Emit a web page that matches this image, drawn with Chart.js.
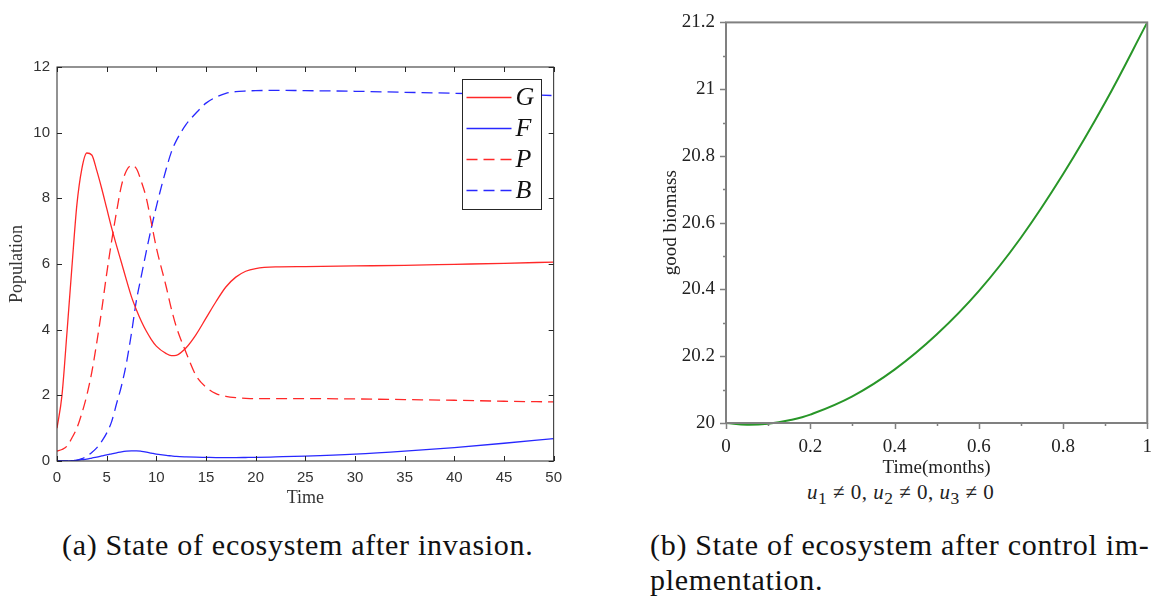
<!DOCTYPE html>
<html>
<head>
<meta charset="utf-8">
<script src="https://cdn.jsdelivr.net/npm/chart.js@4.4.1/dist/chart.umd.min.js"></script>
<style>
  body { margin: 0; background: #fff; width: 1165px; height: 597px; position: relative; overflow: hidden; font-family: "Liberation Serif", serif; }
  .box { position: absolute; }
  .cap { position: absolute; font-size: 30px; letter-spacing: 0.7px; color: #111; line-height: 35px; white-space: nowrap; }
  .ulab { position: absolute; font-size: 21px; letter-spacing: 0.5px; color: #222; white-space: nowrap; }
</style>
</head>
<body>
<div class="box" style="left:0;top:50px;width:570px;height:460px"><canvas id="chartA"></canvas></div>
<div class="box" style="left:615px;top:0;width:550px;height:480px"><canvas id="chartB"></canvas></div>
<div class="ulab" style="left:807px;top:480px"><i>u</i><sub>1</sub> &ne; 0, <i>u</i><sub>2</sub> &ne; 0, <i>u</i><sub>3</sub> &ne; 0</div>
<div class="cap" style="left:62px;top:527px">(a) State of ecosystem after invasion.</div>
<div class="cap" style="left:650px;top:527px">(b) State of ecosystem after control im-<br>plementation.</div>
<script>
// (a) populations after invasion
const time = [0, 0.5, 1, 1.5, 2, 2.5, 3, 3.5, 4, 4.5, 5, 5.5, 6, 6.5, 7, 7.5, 8, 8.5, 9, 9.5, 10,
  11, 11.5, 12, 13, 14, 15, 16, 17, 18, 19, 20, 22, 25, 30, 35, 40, 45, 50];
const G = [1.0, 2.0, 3.9, 5.9, 7.8, 8.9, 9.38, 9.32, 8.85, 8.3, 7.7, 7.1, 6.55, 6.03, 5.5, 5.0, 4.6, 4.25, 3.95, 3.7, 3.5,
  3.27, 3.21, 3.22, 3.45, 3.85, 4.35, 4.85, 5.3, 5.6, 5.78, 5.86, 5.91, 5.92, 5.94, 5.96, 5.99, 6.02, 6.06];
const F = [0, 0, 0.005, 0.01, 0.02, 0.04, 0.06, 0.09, 0.12, 0.155, 0.19, 0.22, 0.25, 0.28, 0.3, 0.31, 0.31, 0.295, 0.27, 0.24, 0.21,
  0.17, 0.155, 0.14, 0.125, 0.115, 0.11, 0.105, 0.105, 0.105, 0.107, 0.11, 0.125, 0.15, 0.21, 0.3, 0.41, 0.54, 0.68];
const P = [0.3, 0.35, 0.45, 0.7, 1.0, 1.45, 2.0, 2.7, 3.6, 4.6, 5.7, 6.7, 7.6, 8.4, 8.85, 9.0, 8.9, 8.5, 8.0, 7.25, 6.5,
  5.3, 4.65, 4.1, 3.3, 2.6, 2.25, 2.05, 1.97, 1.93, 1.91, 1.9, 1.9, 1.9, 1.89, 1.87, 1.85, 1.82, 1.8];
const B = [0, 0, 0, 0.01, 0.03, 0.07, 0.15, 0.26, 0.4, 0.6, 0.85, 1.2, 1.75, 2.3, 3.0, 3.9, 4.9, 5.65, 6.4, 7.1, 7.75,
  8.9, 9.4, 9.75, 10.25, 10.6, 10.9, 11.08, 11.2, 11.25, 11.27, 11.28, 11.29, 11.28, 11.26, 11.23, 11.2, 11.17, 11.13];

// (b) good biomass under control
const months = [0, 0.05, 0.1, 0.15, 0.2, 0.3, 0.4, 0.5, 0.6, 0.7, 0.8, 0.9, 1.0];
const biomass = [20.0, 19.995, 19.998, 20.008, 20.025, 20.08, 20.16, 20.265, 20.395, 20.555, 20.745, 20.96, 21.2];

const pts = (xs, ys) => xs.map((x, i) => ({ x: x, y: ys[i] }));

// box frame + tick marks drawn from the scale ticks
const frameTicks = {
  id: 'frameTicks',
  afterDatasetsDraw(chart, args, o) {
    const { ctx, chartArea: a } = chart;
    const x = chart.scales.x, y = chart.scales.y;
    ctx.save();
    ctx.strokeStyle = o.color;
    ctx.lineWidth = o.width;
    ctx.strokeRect(a.left, a.top, a.right - a.left, a.bottom - a.top);
    ctx.lineWidth = o.tickWidth;
    ctx.beginPath();
    x.ticks.forEach(t => {
      const px = Math.round(x.getPixelForValue(t.value)) + 0.5;
      const len = t.label === '' ? o.minor : o.major;
      if (o.inward) {
        ctx.moveTo(px, a.bottom); ctx.lineTo(px, a.bottom - len);
        ctx.moveTo(px, a.top); ctx.lineTo(px, a.top + len);
      } else {
        ctx.moveTo(px, a.bottom); ctx.lineTo(px, a.bottom + len);
      }
    });
    y.ticks.forEach(t => {
      const py = Math.round(y.getPixelForValue(t.value)) + 0.5;
      const len = t.label === '' ? o.minor : o.major;
      if (o.inward) {
        ctx.moveTo(a.left, py); ctx.lineTo(a.left + len, py);
        ctx.moveTo(a.right, py); ctx.lineTo(a.right - len, py);
      } else {
        ctx.moveTo(a.left, py); ctx.lineTo(a.left - len, py);
      }
    });
    ctx.stroke();
    ctx.restore();
  }
};

// legend box inside the plot, top right
const boxLegend = {
  id: 'boxLegend',
  afterDraw(chart, args, o) {
    if (!o.show) return;
    const { ctx, chartArea: a } = chart;
    const left = Math.round(a.right - o.right - o.width) + 0.5;
    const top = Math.round(a.top + o.top) + 0.5;
    ctx.save();
    ctx.fillStyle = '#fff';
    ctx.fillRect(left, top, o.width, o.height);
    ctx.strokeStyle = '#262626';
    ctx.lineWidth = 1;
    ctx.strokeRect(left, top, o.width, o.height);
    chart.data.datasets.forEach((ds, i) => {
      const cy = top + o.first + i * o.gap;
      ctx.strokeStyle = ds.borderColor;
      ctx.lineWidth = ds.borderWidth;
      ctx.setLineDash(ds.borderDash || []);
      ctx.beginPath();
      ctx.moveTo(left + 4, cy);
      ctx.lineTo(left + 49, cy);
      ctx.stroke();
      ctx.setLineDash([]);
      ctx.fillStyle = '#111';
      ctx.font = o.font;
      ctx.textBaseline = 'middle';
      ctx.fillText(ds.label, left + 53, cy + 1);
    });
    ctx.restore();
  }
};

const red = 'rgb(255,40,40)';
const blue = 'rgb(40,40,255)';

new Chart(document.getElementById('chartA'), {
  type: 'line',
  data: {
    datasets: [
      { label: 'G', data: pts(time, G), borderColor: red, borderWidth: 1.3 },
      { label: 'F', data: pts(time, F), borderColor: blue, borderWidth: 1.3 },
      { label: 'P', data: pts(time, P), borderColor: red, borderWidth: 1.3, borderDash: [11, 6] },
      { label: 'B', data: pts(time, B), borderColor: blue, borderWidth: 1.3, borderDash: [11, 6] }
    ]
  },
  options: {
    responsive: true,
    maintainAspectRatio: false,
    animation: false,
    layout: { padding: { top: 17, right: 14, left: 0, bottom: 0 } },
    elements: { point: { radius: 0 }, line: { cubicInterpolationMode: 'monotone' } },
    plugins: {
      legend: { display: false },
      tooltip: { enabled: false },
      frameTicks: { color: '#262626', width: 1, tickWidth: 1, inward: true, major: 5, minor: 5 },
      boxLegend: { show: true, right: 13, top: 12, width: 79, height: 130, first: 18, gap: 31, font: 'italic 26px "Liberation Serif"' }
    },
    scales: {
      x: {
        type: 'linear', min: 0, max: 50,
        ticks: { stepSize: 5, color: '#333', padding: 8, maxRotation: 0, font: { family: 'Liberation Sans', size: 15 } },
        grid: { display: false, drawTicks: false },
        border: { display: false },
        title: { display: true, text: 'Time', color: '#333', font: { family: 'Liberation Serif', size: 18 }, padding: { top: 0, bottom: 1 } },
        afterFit(s) { s.height = 49; }
      },
      y: {
        min: 0, max: 12,
        ticks: { stepSize: 2, color: '#333', padding: 7, font: { family: 'Liberation Sans', size: 15 } },
        grid: { display: false, drawTicks: false },
        border: { display: false },
        title: { display: true, text: 'Population', color: '#333', font: { family: 'Liberation Serif', size: 18 }, padding: { top: 6, bottom: 0 } },
        afterFit(s) { s.width = 57; }
      }
    }
  },
  plugins: [frameTicks, boxLegend]
});

const tenths = v => { const k = Math.round(v * 10); return k % 2 ? '' : String(k / 10); };

new Chart(document.getElementById('chartB'), {
  type: 'line',
  data: {
    datasets: [
      { label: 'good biomass', data: pts(months, biomass), borderColor: 'rgb(40,150,40)', borderWidth: 2, tension: 0.4, clip: false }
    ]
  },
  options: {
    responsive: true,
    maintainAspectRatio: false,
    animation: false,
    layout: { padding: { top: 13, right: 15, left: 0, bottom: 0 } },
    elements: { point: { radius: 0 } },
    plugins: {
      legend: { display: false },
      tooltip: { enabled: false },
      frameTicks: { color: '#808080', width: 2, tickWidth: 1.5, inward: false, major: 6, minor: 3 },
      boxLegend: { show: false }
    },
    scales: {
      x: {
        type: 'linear', min: 0, max: 1,
        ticks: { stepSize: 0.1, autoSkip: false, callback: tenths, color: '#222', padding: 13, maxRotation: 0, font: { family: 'Liberation Serif', size: 19 } },
        grid: { display: false, drawTicks: false },
        border: { display: false },
        title: { display: true, text: 'Time(months)', color: '#222', font: { family: 'Liberation Serif', size: 19 }, padding: { top: 0, bottom: 1 } },
        afterFit(s) { s.height = 57; }
      },
      y: {
        min: 20, max: 21.2,
        ticks: { stepSize: 0.1, autoSkip: false, callback: tenths, color: '#222', padding: 11, font: { family: 'Liberation Serif', size: 19 } },
        grid: { display: false, drawTicks: false },
        border: { display: false },
        title: { display: true, text: 'good biomass', color: '#222', font: { family: 'Liberation Serif', size: 19 }, padding: { top: 45, bottom: 0 } },
        afterFit(s) { s.width = 111; }
      }
    }
  },
  plugins: [frameTicks, boxLegend]
});
</script>
</body>
</html>
